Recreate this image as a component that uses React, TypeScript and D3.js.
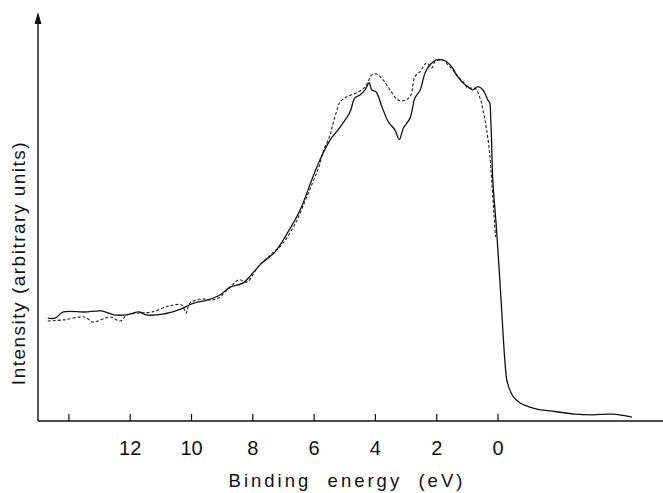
import { scaleLinear, line, curveCatmullRom } from "d3";

// binding energy (eV) and intensity (arbitrary units) — solid curve
const solidEnergy = [
  14.69, 14.45, 14.18, 13.49, 12.94, 12.53, 12.12, 11.7, 11.48, 10.93, 10.45, 9.9, 9.49, 9.07, 8.74, 8.32,
  7.97, 7.7, 7.28, 6.87, 6.46, 6.04, 5.81, 5.48, 5.15, 4.83, 4.67, 4.5, 4.34, 4.2, 4.12, 3.98, 3.79, 3.58,
  3.36, 3.22, 3.09, 2.87, 2.71, 2.54, 2.38, 2.22, 2.0, 1.73, 1.51, 1.35, 1.14, 0.98, 0.82, 0.65, 0.49, 0.33,
  0.27, 0.24, 0.21, 0.17, 0.04, -0.1, -0.24, -0.31, -0.51, -0.72, -0.86, -1.27, -1.69, -2.51, -3.07, -3.75, -4.37,
];
const solidIntensity = [
  28.5, 28.5, 30.2, 30.2, 30.5, 29.4, 29.4, 30.2, 29.4, 29.6, 30.7, 32.7, 33.5, 34.9, 37.1, 38.2,
  41.3, 43.8, 46.8, 52.1, 58.4, 67.6, 72.3, 77.8, 81.4, 85.6, 89.5, 90.3, 91.7, 93.7, 91.7, 91.2, 87.1, 82.9,
  80.6, 78.0, 81.1, 83.9, 89.5, 91.7, 96.4, 98.6, 100, 99.8, 98.1, 95.8, 93.6, 92.6, 91.7, 92.6, 91.7, 88.9,
  88.1, 84.3, 77.8, 66.8, 52.1, 33.5, 15.0, 10.5, 6.6, 5.0, 4.4, 3.3, 2.8, 1.9, 1.7, 1.9, 1.1,
];

// dashed curve
const dashedEnergy = [
  14.69, 14.18, 13.49, 13.21, 12.66, 12.32, 12.1, 11.7, 11.29, 10.73, 10.31, 10.18, 10.05, 9.62, 9.36, 9.07,
  8.94, 8.73, 8.45, 8.19, 7.83, 7.42, 7.01, 6.59, 6.32, 6.04, 5.84, 5.71, 5.48, 5.38, 5.22, 5.15, 4.94, 4.61,
  4.34, 4.12, 3.96, 3.75, 3.52, 3.31, 3.1, 2.87, 2.71, 2.54, 2.33, 2.16, 2.06, 1.79, 1.63, 1.47, 1.31, 1.14,
  0.98, 0.75, 0.59, 0.49, 0.37, 0.26, 0.21, 0.13, 0.08,
];
const dashedIntensity = [
  27.7, 28.0, 28.8, 27.4, 28.8, 27.7, 29.4, 29.9, 30.2, 31.9, 32.1, 29.9, 32.7, 33.8, 33.5, 34.3,
  35.5, 37.1, 39.1, 38.5, 42.7, 46.0, 49.3, 55.1, 60.4, 66.2, 70.4, 74.5, 79.2, 82.5, 87.0, 88.4, 89.8, 90.9,
  92.5, 95.8, 96.1, 94.5, 91.7, 89.2, 88.7, 89.8, 95.4, 96.8, 99.2, 97.8, 99.5, 100, 98.6, 97.2, 95.4, 94.0,
  92.2, 92.2, 89.5, 86.1, 80.6, 73.1, 66.8, 57.1, 51.0,
];

const tickValues = [14, 12, 10, 8, 6, 4, 2, 0];
const tickLabels = ["", "12", "10", "8", "6", "4", "2", "0"];

export default function App() {
  const width = 663;
  const height = 493;
  const axisX = 38;
  const axisY = 421;

  const x = scaleLinear().domain([14, 0]).range([68.9, 498]);
  const y = scaleLinear().domain([0, 100]).range([axisY, 60]);

  const solid = solidEnergy.map((e, i) => [e, solidIntensity[i]] as [number, number]);
  const dashed = dashedEnergy.map((e, i) => [e, dashedIntensity[i]] as [number, number]);

  const path = line<[number, number]>()
    .x(d => x(d[0]))
    .y(d => y(d[1]))
    .curve(curveCatmullRom.alpha(0.5));

  const font = "'Liberation Sans', Arial, sans-serif";

  return (
    <svg
      width={width}
      height={height}
      style={{ position: "absolute", left: 0, top: 0, background: "#fff" }}
    >
      {/* axes */}
      <line x1={axisX} y1={axisY} x2={axisX} y2={22} stroke="#111" strokeWidth={1.4} />
      <path d={`M${axisX},12 L${axisX - 3.5},24 L${axisX + 3.5},24 Z`} fill="#111" />
      <line x1={axisX} y1={axisY} x2={width} y2={axisY} stroke="#111" strokeWidth={1.4} />

      {tickValues.map((t, i) => (
        <g key={i} transform={`translate(${x(t)}, ${axisY})`}>
          <line y1={0} y2={-7} stroke="#111" strokeWidth={1.2} />
          <text
            y={34}
            textAnchor="middle"
            fontFamily={font}
            fontSize={20}
            fill="#111"
          >
            {tickLabels[i]}
          </text>
        </g>
      ))}

      <text
        x={347}
        y={487}
        textAnchor="middle"
        fontFamily={font}
        fontSize={18.5}
        letterSpacing={3}
        fill="#111"
        style={{ whiteSpace: "pre" }}
      >
        {"Binding  energy  (eV)"}
      </text>

      <text
        transform="translate(25, 263) rotate(-90)"
        textAnchor="middle"
        fontFamily={font}
        fontSize={19}
        letterSpacing={1.5}
        fill="#111"
      >
        Intensity (arbitrary units)
      </text>

      {/* curves */}
      <path d={path(dashed) ?? ""} fill="none" stroke="#222" strokeWidth={1.1} strokeDasharray="3,2" />
      <path d={path(solid) ?? ""} fill="none" stroke="#111" strokeWidth={1.3} />
    </svg>
  );
}
